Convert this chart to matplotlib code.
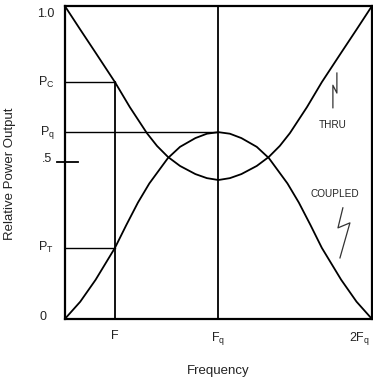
import matplotlib
matplotlib.use('Agg')
import matplotlib.pyplot as plt

plt.rcParams['font.family'] = ['Liberation Sans', 'DejaVu Sans']

# Frequency in units of Fq, power relative to input
thru_f = [0.0, 0.1, 0.2, 0.326, 0.423, 0.534, 0.6, 0.671, 0.75, 0.85, 0.925, 1.0,
          1.075, 1.15, 1.25, 1.329, 1.4, 1.466, 1.577, 1.674, 1.8, 1.9, 2.0]
thru_p = [1.0, 0.925, 0.851, 0.757, 0.677, 0.594, 0.553, 0.518, 0.489, 0.463, 0.450, 0.444,
          0.450, 0.463, 0.489, 0.518, 0.553, 0.594, 0.677, 0.757, 0.851, 0.925, 1.0]

coupled_f = [0.0, 0.1, 0.2, 0.326, 0.4, 0.476, 0.55, 0.671, 0.75, 0.85, 0.925, 1.0,
             1.075, 1.15, 1.25, 1.329, 1.45, 1.524, 1.6, 1.674, 1.8, 1.9, 2.0]
coupled_p = [0.0, 0.055, 0.125, 0.227, 0.300, 0.372, 0.433, 0.514, 0.550, 0.578, 0.592, 0.597,
             0.592, 0.578, 0.550, 0.514, 0.433, 0.372, 0.300, 0.227, 0.125, 0.055, 0.0]

# reference levels
f_op = 0.326      # operating frequency F
f_q = 1.0         # Fq
p_c = 0.757
p_q = 0.597
p_t = 0.227

fig = plt.figure(figsize=(3.73, 3.81), dpi=100)
ax = fig.add_axes([0.174, 0.163, 0.823, 0.821])

lw = 1.3
ax.plot(thru_f, thru_p, color='black', lw=lw, solid_joinstyle='round')
ax.plot(coupled_f, coupled_p, color='black', lw=lw, solid_joinstyle='round')

# guide lines for F and Fq
ax.plot([0, f_op], [p_c, p_c], color='black', lw=1.0)
ax.plot([0, f_op], [p_t, p_t], color='black', lw=1.0)
ax.plot([0, f_q], [p_q, p_q], color='black', lw=1.0)
ax.plot([f_op, f_op], [0, p_c], color='black', lw=1.3)
ax.plot([f_q, f_q], [0, 1.0], color='black', lw=1.3)

ax.set_xlim(0, 2)
ax.set_ylim(0, 1)
ax.set_xticks([])
ax.set_yticks([])
for s in ax.spines.values():
    s.set_linewidth(1.6)

# .5 tick crossing the axis
ax.plot([-0.05, 0.085], [0.5, 0.5], color='black', lw=1.3, clip_on=False)

fs = 9
tc = '#222222'
ylabels = [(0.975, -0.065, '1.0'), (p_c, -0.065, 'P$_\\mathregular{C}$'),
           (p_q, -0.065, 'P$_\\mathregular{q}$'), (0.51, -0.085, '.5'),
           (p_t, -0.075, 'P$_\\mathregular{T}$'), (0.005, -0.117, '0')]
for yv, xv, txt in ylabels:
    ax.text(xv, yv, txt, ha='right', va='center', fontsize=fs, color=tc)

xlabels = [(f_op, 'center', 'F'), (f_q, 'center', 'F$_\\mathregular{q}$'),
           (1.99, 'right', '2F$_\\mathregular{q}$')]
for xv, ha, txt in xlabels:
    ax.text(xv, -0.035, txt, ha=ha, va='top', fontsize=fs, color=tc)

fig.text(0.585, 0.026, 'Frequency', ha='center', va='center', fontsize=9.5, color=tc)
fig.text(0.027, 0.543, 'Relative Power Output', rotation=90, ha='center', va='center',
         fontsize=9.5, color=tc)

ax.text(1.745, 0.62, 'THRU', ha='center', va='center', fontsize=7.2, color=tc)
ax.text(1.76, 0.40, 'COUPLED', ha='center', va='center', fontsize=7.2, color=tc)

# little lightning marks next to the curve names
ax.plot([1.772, 1.772, 1.746, 1.746], [0.786, 0.722, 0.747, 0.675], color='#333333', lw=0.9)
ax.plot([1.811, 1.779, 1.857, 1.792], [0.355, 0.291, 0.307, 0.195], color='#333333', lw=0.9)

fig.savefig('out.png', dpi=100)
